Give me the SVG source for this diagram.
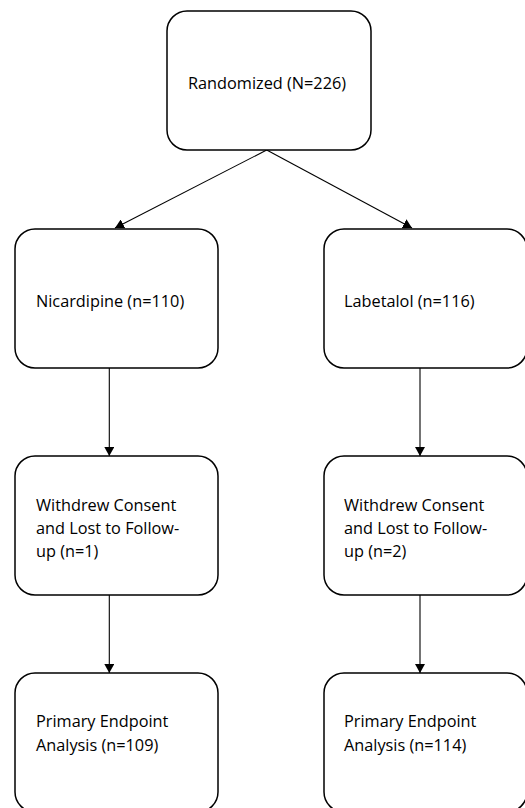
<svg xmlns="http://www.w3.org/2000/svg" width="525" height="808" viewBox="0 0 525 808">
<defs>
<style>
.box{fill:#fff;stroke:#000;stroke-width:1.5}
.t{font-family:"Open Sans","Liberation Sans",sans-serif;font-size:16.3px;fill:#000}
.c{stroke:#000;stroke-width:1.1;fill:none}
</style>
<marker id="ah" markerWidth="10" markerHeight="10" refX="9" refY="5" orient="auto" markerUnits="userSpaceOnUse">
<path d="M0,0 L9,5 L0,10 Z" fill="#000"/>
</marker>
</defs>
<rect width="525" height="808" fill="#fff"/>
<g id="connectors">
<line class="c" x1="266.7" y1="150" x2="115" y2="228" marker-end="url(#ah)"/>
<line class="c" x1="266.7" y1="150" x2="412" y2="228" marker-end="url(#ah)"/>
<line class="c" x1="109.3" y1="368" x2="109.3" y2="456" marker-end="url(#ah)"/>
<line class="c" x1="109.3" y1="595" x2="109.3" y2="673" marker-end="url(#ah)"/>
<line class="c" x1="420" y1="368" x2="420" y2="456" marker-end="url(#ah)"/>
<line class="c" x1="420" y1="595" x2="420" y2="673" marker-end="url(#ah)"/>
</g>
<g id="randomized">
<rect class="box" x="167" y="11" width="204" height="139" rx="20"/>
<text class="t" x="188" y="89">Randomized (N=226)</text>
</g>
<g id="nicardipine">
<rect class="box" x="15" y="229" width="203" height="139" rx="20"/>
<text class="t" x="36" y="307">Nicardipine (n=110)</text>
</g>
<g id="labetalol">
<rect class="box" x="324" y="229" width="203" height="139" rx="20"/>
<text class="t" x="344" y="307">Labetalol (n=116)</text>
</g>
<g id="withdrew-left">
<rect class="box" x="15" y="456" width="203" height="139" rx="20"/>
<text class="t" x="36" y="511">Withdrew Consent</text>
<text class="t" x="36" y="534">and Lost to Follow-</text>
<text class="t" x="36" y="557">up (n=1)</text>
</g>
<g id="withdrew-right">
<rect class="box" x="324" y="456" width="203" height="139" rx="20"/>
<text class="t" x="344" y="511">Withdrew Consent</text>
<text class="t" x="344" y="534">and Lost to Follow-</text>
<text class="t" x="344" y="557">up (n=2)</text>
</g>
<g id="primary-left">
<rect class="box" x="15" y="673" width="203" height="139" rx="20"/>
<text class="t" x="36" y="727">Primary Endpoint</text>
<text class="t" x="36" y="751">Analysis (n=109)</text>
</g>
<g id="primary-right">
<rect class="box" x="324" y="673" width="203" height="139" rx="20"/>
<text class="t" x="344" y="727">Primary Endpoint</text>
<text class="t" x="344" y="751">Analysis (n=114)</text>
</g>
</svg>
